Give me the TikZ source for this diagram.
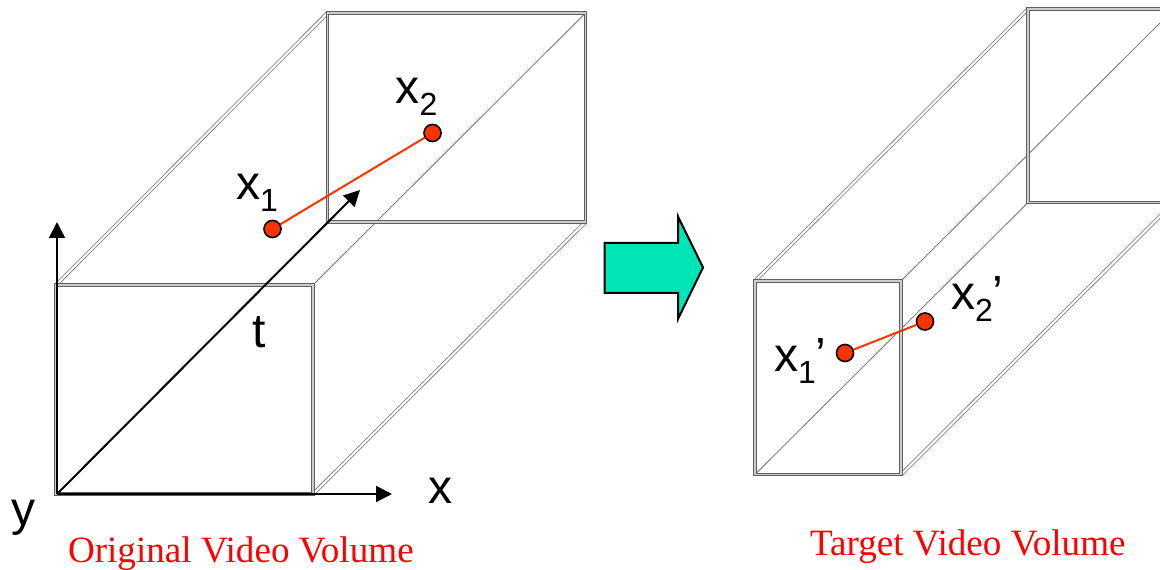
\documentclass[tikz,border=0pt]{standalone}
\usepackage{fontspec}
\setmainfont{Liberation Sans}
\newfontfamily\serifcap{Liberation Serif}
\usetikzlibrary{arrows.meta}
\newcommand{\bigtxt}{\fontsize{36}{36}\selectfont}
\newcommand{\subtxt}[1]{\raisebox{-9pt}{\fontsize{24}{24}\selectfont #1}}
\newcommand{\primetxt}{’}
\definecolor{arrowgreen}{HTML}{00E5B5}
\definecolor{dotred}{HTML}{FF3300}
\tikzset{
  frame/.style={draw=black!62, line width=0.65pt, double=black!20, double distance=1.1pt, line join=miter},
  edgedouble/.style={draw=black!55, line width=0.55pt, double=white, double distance=1.6pt},
  edgesingle/.style={draw=black!55, line width=0.6pt},
  axis/.style={draw=black, line width=1.5pt, -{Triangle[length=12pt,width=12pt]}},
  dot/.style={circle, draw=black, line width=1.2pt, fill=dotred, minimum size=12.8pt, inner sep=0pt},
  redline/.style={draw=dotred, line width=1.5pt},
  lbl/.style={anchor=base west, inner sep=0pt, outer sep=0pt, text=black},
  caption/.style={anchor=base west, inner sep=0pt, outer sep=0pt, text=red, font=\serifcap\fontsize{27.85}{28}\selectfont},
  bigarrow/.style={draw=black, line width=1.5pt, fill=arrowgreen, line join=miter}
}
\begin{document}
\begin{tikzpicture}[x=0.75pt,y=-0.75pt]
\clip (0,0) rectangle (1160,570);
\fill[white] (0,0) rectangle (1160,570);
% left volume corners
\coordinate (lftl) at (56,285);
\coordinate (lftr) at (313,285);
\coordinate (lfbl) at (56,494);
\coordinate (lfbr) at (313,494);
\coordinate (lbtl) at (327.5,13);
\coordinate (lbtr) at (585.5,13);
\coordinate (lbbl) at (327.5,222);
\coordinate (lbbr) at (585.5,222);
% right volume corners
\coordinate (rftl) at (755,281);
\coordinate (rftr) at (901,281);
\coordinate (rfbl) at (755,474.5);
\coordinate (rfbr) at (901,474.5);
\coordinate (rbtl) at (1028,9);
\coordinate (rbtr) at (1174,9);
\coordinate (rbbl) at (1028,202.5);
\coordinate (rbbr) at (1174,202.5);
% left volume edges
\draw[edgedouble] (lftl) -- (lbtl);
\draw[edgedouble] (lfbr) -- (lbbr);
\draw[edgesingle] (lftr) -- (lbtr);
\draw[frame] (lbtl) rectangle (lbbr);
\draw[frame] (lftl) rectangle (lfbr);
% right volume edges
\draw[edgedouble] (rftl) -- (rbtl);
\draw[edgedouble] (rfbr) -- (rbbr);
\draw[edgesingle] (rftr) -- (rbtr);
\draw[edgesingle] (rfbl) -- (rbbl);
\draw[frame] (rbtl) rectangle (rbbr);
\draw[frame] (rftl) rectangle (rfbr);
% axes
\coordinate (origin) at (57,494);
\coordinate (ytip) at (57,222);
\coordinate (xtip) at (392,494);
\coordinate (ttip) at (360,190);
\draw[axis] (origin) -- (ytip);
\draw[axis] (origin) -- (xtip);
\draw[axis] (origin) -- (ttip);
% points
\node[dot] (x1) at (272.5,229) {};
\node[dot] (x2) at (432.5,133) {};
\node[dot] (x1p) at (845,353) {};
\node[dot] (x2p) at (925,321.5) {};
\draw[redline] (x1) -- (x2);
\draw[redline] (x1p) -- (x2p);
% big arrow
\draw[bigarrow] (604.5,243) -- (678,243) -- (678,216.5) -- (703,267.5) -- (678,319) -- (678,293) -- (604.5,293) -- cycle;
% labels
\node[lbl] (lx2) at (395.5,104) {\bigtxt x\subtxt{2}};
\node[lbl] (lx1) at (236,199.5) {\bigtxt x\subtxt{1}};
\node[lbl] (lt) at (252,347) {\bigtxt t};
\node[lbl] (lx) at (428,503) {\bigtxt x};
\node[lbl] (ly) at (12,525) {\bigtxt y};
\node[lbl] (lx1p) at (774,371) {\bigtxt x\subtxt{1}\primetxt};
\node[lbl] (lx2p) at (951,310) {\bigtxt x\subtxt{2}\primetxt};
\node[caption] (capl) at (68,562) {Original Video Volume};
\node[caption] (capr) at (810,555) {Target Video Volume};
\end{tikzpicture}
\end{document}
